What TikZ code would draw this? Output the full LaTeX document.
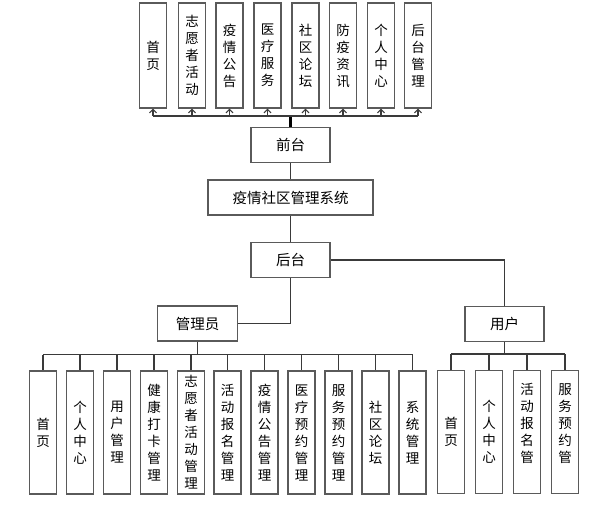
\documentclass[tikz,border=0pt]{standalone}
\usepackage{fontspec}
\setmainfont{Noto Sans CJK SC}
\usetikzlibrary{arrows.meta}
\definecolor{boxgray}{HTML}{5A5A5A}
\definecolor{linegray}{HTML}{3A3A3A}
\begin{document}
\begin{tikzpicture}[x=1pt,y=-1pt,
  box/.style={draw=boxgray, line width=1.3pt, fill=white, inner sep=0pt},
  hbox/.style={box, minimum width=79pt, minimum height=35pt, font=\fontsize{14.5}{16}\selectfont},
  vbox/.style={box, minimum width=27pt, align=center, font=\fontsize{13.5}{17}\selectfont},
  topbox/.style={vbox, minimum height=105pt},
  botbox/.style={vbox, minimum height=123pt},
  conn/.style={draw=linegray, line width=1.1pt},
  arr/.style={conn, -{Straight Barb[length=3.5pt,width=7pt]}}
]
\useasboundingbox (0,0) rectangle (604,507);

% top level boxes
\node[topbox] (t1) at (153,55.5) {首\\页};
\node[topbox] (t2) at (192,55.5) {志\\愿\\者\\活\\动};
\node[topbox] (t3) at (229.5,55.5) {疫\\情\\公\\告};
\node[topbox] (t4) at (267.5,55.5) {医\\疗\\服\\务};
\node[topbox] (t5) at (305.5,55.5) {社\\区\\论\\坛};
\node[topbox] (t6) at (343,55.5) {防\\疫\\资\\讯};
\node[topbox] (t7) at (381,55.5) {个\\人\\中\\心};
\node[topbox] (t8) at (418,55.5) {后\\台\\管\\理};

% middle
\node[hbox] (qt) at (290.5,145) {前台};
\node[hbox, minimum width=165pt] (sys) at (290.5,197.5) {疫情社区管理系统};
\node[hbox] (ht) at (290.5,260) {后台};
\node[hbox, minimum width=80pt] (gly) at (197.5,323.5) {管理员};
\node[hbox] (yh) at (504.5,324) {用户};

% admin boxes
\node[botbox] (a1) at (43,432.5) {首\\页};
\node[botbox] (a2) at (80,432.5) {个\\人\\中\\心};
\node[botbox] (a3) at (117,432.5) {用\\户\\管\\理};
\node[botbox] (a4) at (154,432.5) {健\\康\\打\\卡\\管\\理};
\node[botbox] (a5) at (191,432.5) {志\\愿\\者\\活\\动\\管\\理};
\node[botbox] (a6) at (227.5,432.5) {活\\动\\报\\名\\管\\理};
\node[botbox] (a7) at (264.5,432.5) {疫\\情\\公\\告\\管\\理};
\node[botbox] (a8) at (301.5,432.5) {医\\疗\\预\\约\\管\\理};
\node[botbox] (a9) at (338.5,432.5) {服\\务\\预\\约\\管\\理};
\node[botbox] (a10) at (375.5,432.5) {社\\区\\论\\坛};
\node[botbox] (a11) at (412.5,432.5) {系\\统\\管\\理};

% user boxes
\node[botbox] (u1) at (451,432) {首\\页};
\node[botbox] (u2) at (489,432) {个\\人\\中\\心};
\node[botbox] (u3) at (527,432) {活\\动\\报\\名\\管\\\phantom{理}};
\node[botbox] (u4) at (565,432) {服\\务\\预\\约\\管\\\phantom{理}};

% bus coordinates
\coordinate (tb) at (290.5,116);
\coordinate (ab) at (197.5,354.5);
\coordinate (ub) at (504.5,354);

% top connectors
\draw[conn, line width=2.6pt, draw=black] (qt.north) -- (tb);
\draw[conn] (t1.south |- tb) -- (t8.south |- tb);
\foreach \i in {1,...,8} {
  \draw[arr] (t\i.south |- tb) -- (t\i.south);
}

% middle connectors
\draw[conn] (qt.south) -- (sys.north);
\draw[conn] (sys.south) -- (ht.north);
\draw[conn] (ht.east) -| (yh.north);
\draw[conn] (ht.south) |- (gly.east);

% admin connectors
\draw[conn] (gly.south) -- (ab);
\draw[conn] (a1.north |- ab) -- (a11.north |- ab);
\foreach \i in {1,...,11} {
  \draw[conn] (a\i.north |- ab) -- (a\i.north);
}

% user connectors
\draw[conn] (yh.south) -- (ub);
\draw[conn] (u1.north |- ub) -- (u4.north |- ub);
\foreach \i in {1,...,4} {
  \draw[conn] (u\i.north |- ub) -- (u\i.north);
}
\end{tikzpicture}
\end{document}
